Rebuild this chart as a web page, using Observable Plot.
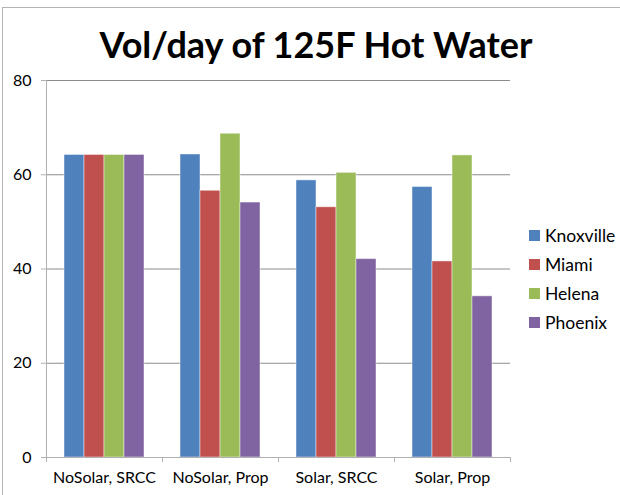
<!DOCTYPE html>
<html>
<head>
<meta charset="utf-8">
<script src="https://cdn.jsdelivr.net/npm/d3@7"></script>
<script src="https://cdn.jsdelivr.net/npm/@observablehq/plot@0.6"></script>
<style>
  html, body { margin: 0; padding: 0; background: #fff; }
  #wrap { position: relative; width: 620px; height: 495px; overflow: hidden; font-family: Lato, "Open Sans", sans-serif; }
  #border { position: absolute; left: 2px; top: 7px; width: 700px; height: 600px; border-left: 1px solid #b3b3b3; border-top: 1px solid #b3b3b3; }
  #title { position: absolute; left: 6px; width: 620px; top: 22px; text-align: center; font-weight: bold; font-size: 36px; color: #000; white-space: nowrap; }
  #legend { position: absolute; left: 529px; top: 221px; }
  .item { display: flex; align-items: center; height: 29px; font-size: 17.5px; color: #000; }
  .sw { width: 11px; height: 11px; margin-right: 5px; }
  #chart { position: absolute; left: 0; top: 0; }
</style>
</head>
<body>
<div id="wrap">
  <div id="chart"></div>
  <div id="border"></div>
  <div id="title"></div>
  <div id="legend"></div>
</div>
<script>
const titleText = "Vol/day of 125F Hot Water";
const categories = ["NoSolar, SRCC", "NoSolar, Prop", "Solar, SRCC", "Solar, Prop"];
const series = ["Knoxville", "Miami", "Helena", "Phoenix"];
const knoxville = [64.2, 64.3, 58.8, 57.4];
const miami = [64.2, 56.6, 53.1, 41.6];
const helena = [64.2, 68.7, 60.4, 64.1];
const phoenix = [64.2, 54.1, 42.1, 34.2];
const yTicks = [0, 20, 40, 60, 80];
const colors = ["#4F81BD", "#C0504D", "#9BBB59", "#8064A2"];

const valuesBySeries = [knoxville, miami, helena, phoenix];
const data = [];
categories.forEach((c, i) => {
  series.forEach((s, j) => data.push({category: c, series: s, value: valuesBySeries[j][i]}));
});

document.getElementById("title").textContent = titleText;

const plot = Plot.plot({
  width: 620,
  height: 495,
  marginLeft: 46,
  marginRight: 110,
  marginTop: 80,
  marginBottom: 38,
  style: {fontFamily: "Lato, 'Open Sans', sans-serif", fontSize: "16px", color: "#000", background: "transparent"},
  fx: {domain: categories, paddingInner: 0, paddingOuter: 0, label: null, axis: null},
  x: {domain: series, paddingInner: 0, paddingOuter: 0.762, axis: null},
  y: {domain: [0, 80], label: null},
  color: {domain: series, range: colors},
  marks: [
    Plot.ruleY(yTicks.filter(d => d > 0), {stroke: "#8c8c8c", strokeWidth: 1}),
    Plot.barY(data, {fx: "category", x: "series", y: "value", fill: "series", stroke: "#ffffff", strokeOpacity: 0.45, strokeWidth: 1}),
    Plot.ruleY([0], {stroke: "#b0b0b0", strokeWidth: 1}),
    Plot.axisY({ticks: yTicks, tickSize: 5, tickPadding: 10, stroke: "#b0b0b0", label: null, fill: "#000"}),
    Plot.axisFx({anchor: "bottom", tickSize: 0, tickPadding: 14, label: null, fill: "#000"})
  ]
});

// axis line and category-boundary ticks, positioned through the plot's scales
const fx = plot.scale("fx");
const y = plot.scale("y");
const svg = d3.select(plot);
const x0 = fx.apply(categories[0]);
const bw = fx.bandwidth;
const edges = categories.map(c => fx.apply(c)).concat([fx.apply(categories[categories.length - 1]) + bw]);
const g = svg.append("g").attr("stroke", "#b0b0b0").attr("stroke-width", 1);
g.append("line").attr("x1", x0 + 0.5).attr("x2", x0 + 0.5).attr("y1", y.apply(80)).attr("y2", y.apply(0) + 5);
edges.forEach(e => {
  g.append("line").attr("x1", e + 0.5).attr("x2", e + 0.5).attr("y1", y.apply(0)).attr("y2", y.apply(0) + 5);
});

document.getElementById("chart").appendChild(plot);

const legend = document.getElementById("legend");
series.forEach((s, i) => {
  const item = document.createElement("div");
  item.className = "item";
  const sw = document.createElement("div");
  sw.className = "sw";
  sw.style.background = colors[i];
  const t = document.createElement("span");
  t.textContent = s;
  item.appendChild(sw);
  item.appendChild(t);
  legend.appendChild(item);
});
</script>
</body>
</html>
